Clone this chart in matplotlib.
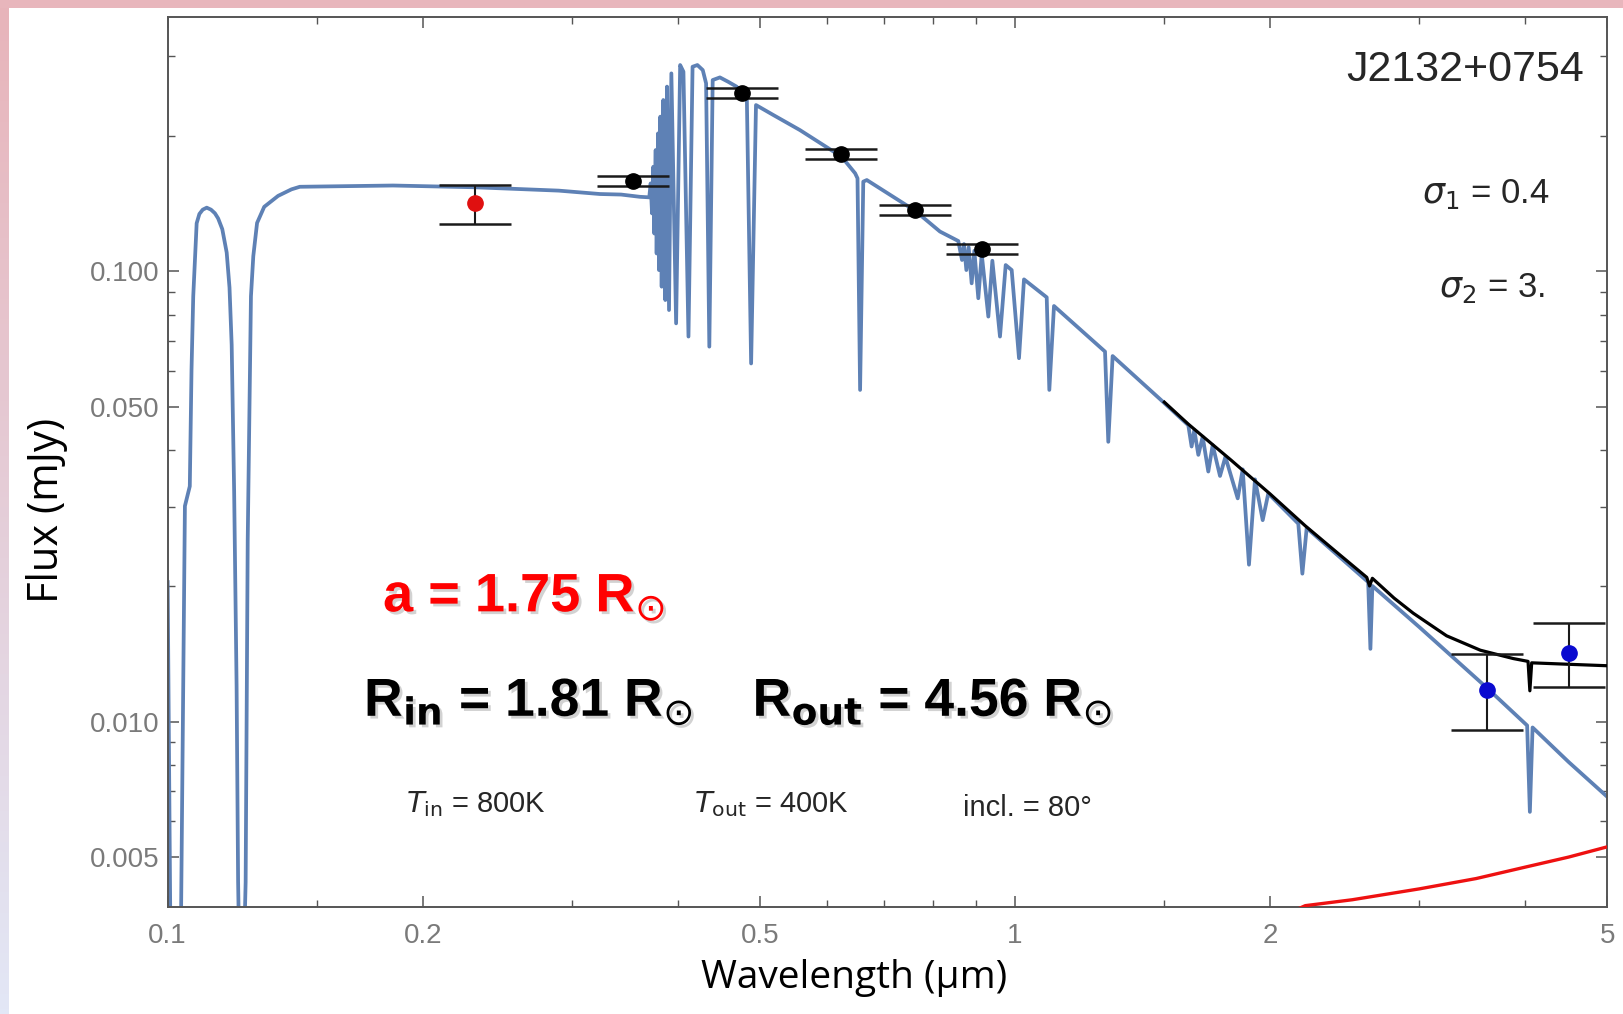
import matplotlib
matplotlib.use("Agg")
import matplotlib.pyplot as plt
import matplotlib.ticker as mticker
import matplotlib.patheffects as pe
import numpy as np

# --- white dwarf model spectrum (blue) ---
wd_wave = [0.1000, 0.1008, 0.1036, 0.1048, 0.1062, 0.1067, 0.1072, 0.1082, 0.1090, 0.1100,
           0.1112, 0.1125, 0.1137, 0.1147, 0.1160, 0.1174, 0.1183, 0.1190, 0.1198, 0.1206,
           0.1211, 0.1215, 0.1230, 0.1236, 0.1243, 0.1254, 0.1262, 0.1275, 0.1300, 0.1350,
           0.1400, 0.1432, 0.1845, 0.2305, 0.2894, 0.3237, 0.3428, 0.3608, 0.3701,
           0.3715, 0.3729, 0.3742, 0.3752, 0.3766, 0.3776, 0.3790, 0.3800, 0.3814, 0.3828,
           0.3845, 0.3866, 0.3884, 0.3905, 0.3930, 0.3981, 0.4025, 0.4061, 0.4117, 0.4163,
           0.4218, 0.4280, 0.4319, 0.4357, 0.4397, 0.4484, 0.4585, 0.4692, 0.4825, 0.4881,
           0.4946, 0.5186, 0.5573, 0.6241, 0.6475, 0.6517, 0.6563, 0.6620, 0.6684, 0.7619,
           0.8153, 0.8570, 0.8657, 0.8703, 0.8760, 0.8815, 0.8887, 0.8952, 0.9049, 0.9133,
           0.9299, 0.9401, 0.9598, 0.9748, 0.9908, 1.0107, 1.0245, 1.0897, 1.0975, 1.1115,
           1.2768, 1.2882, 1.3035, 1.4826,
           1.6010, 1.6155, 1.6273, 1.6453, 1.6648, 1.6904, 1.7107, 1.7451, 1.7707, 1.8311,
           1.8561, 1.8880, 1.9191, 1.9597, 1.9896, 2.1587, 2.1827, 2.2085, 2.6100, 2.6260,
           2.6400, 3.0000, 3.6000, 4.0200, 4.0500, 4.0800, 4.5000, 5.0000]
wd_flux = [0.0204, 0.0030, 0.0030, 0.0301, 0.0333, 0.0605, 0.0880, 0.1278, 0.1340, 0.1370,
           0.1384, 0.1370, 0.1345, 0.1310, 0.1240, 0.1100, 0.0920, 0.0686, 0.0324, 0.0120,
           0.0044, 0.0030, 0.0030, 0.0044, 0.0253, 0.0880, 0.1080, 0.1280, 0.1390, 0.1470,
           0.1520, 0.1540, 0.1550, 0.1536, 0.1510, 0.1484, 0.1480, 0.1463, 0.1459,
           0.1567, 0.1344, 0.1706, 0.1213, 0.1858, 0.1095, 0.2023, 0.1006, 0.2204, 0.0924,
           0.2400, 0.0863, 0.2570, 0.0820, 0.2750, 0.0766, 0.2870, 0.2774, 0.0716, 0.2845,
           0.2870, 0.2797, 0.2613, 0.0680, 0.2658, 0.2694, 0.2635, 0.2570, 0.2400, 0.0624,
           0.2339, 0.2222, 0.2058, 0.1796, 0.1650, 0.1608, 0.0545, 0.1581, 0.1594, 0.1363,
           0.1225, 0.1167, 0.1059, 0.1149, 0.1006, 0.1130, 0.0940, 0.1110, 0.0871, 0.1092,
           0.0793, 0.1055, 0.0716, 0.1032, 0.1006, 0.0641, 0.0959, 0.0875, 0.0545, 0.0837,
           0.0663, 0.0418, 0.0648, 0.0520,
           0.0455, 0.0408, 0.0444, 0.0391, 0.0429, 0.0359, 0.0411, 0.0351, 0.0387, 0.0313,
           0.0363, 0.0223, 0.0345, 0.0280, 0.0321, 0.0275, 0.0213, 0.0269, 0.0204, 0.0145,
           0.0200, 0.0162, 0.0119, 0.0098, 0.0063, 0.0097, 0.00813, 0.0068]

# --- total model (star + disk, black) ---
tot_wave = [1.50, 1.60, 1.80, 2.00, 2.20, 2.40, 2.60, 2.62, 2.64, 2.80, 2.95, 3.23, 3.54,
            3.87, 4.03, 4.05, 4.07, 4.50, 5.00]
tot_flux = [0.0512, 0.0458, 0.0380, 0.0320, 0.0272, 0.0237, 0.0209, 0.0200, 0.0208, 0.0188,
            0.0174, 0.0155, 0.0144, 0.0138, 0.0136, 0.0117, 0.0135, 0.0134, 0.0133]

# --- disk component (red) ---
disk_wave = [2.10, 2.20, 2.50, 3.00, 3.50, 4.00, 4.50, 5.00]
disk_flux = [0.00375, 0.00390, 0.00402, 0.00425, 0.00448, 0.00475, 0.00500, 0.00527]

# --- photometry ---
uv_wave = [0.2306]
uv_flux = [0.1418]
uv_lo = [0.0143]
uv_hi = [0.0133]

opt_wave = [0.3545, 0.4766, 0.6224, 0.7620, 0.9150]
opt_flux = [0.1585, 0.2485, 0.1820, 0.1367, 0.1120]
opt_err = [0.0041, 0.0065, 0.0048, 0.0033, 0.0027]

ir_wave = [3.6, 4.5]
ir_flux = [0.01172, 0.01419]
ir_lo = [0.00213, 0.00228]
ir_hi = [0.00238, 0.00235]

x_ticks = [0.1, 0.2, 0.5, 1, 2, 5]
x_labels = ["0.1", "0.2", "0.5", "1", "2", "5"]
x_minor = [0.15, 0.3, 0.4, 0.6, 0.7, 0.8, 0.9, 1.5, 3, 4]
y_ticks = [0.005, 0.01, 0.05, 0.1]
y_labels = ["0.005", "0.010", "0.050", "0.100"]
y_minor = [0.006, 0.007, 0.008, 0.009, 0.02, 0.03, 0.04, 0.06, 0.07, 0.08, 0.09, 0.2, 0.3]

fig = plt.figure(figsize=(16.23, 10.14), dpi=100)
fig.patch.set_facecolor("white")

# slide background strips
grad = np.linspace(0, 1, 200)
left_cols = np.zeros((200, 1, 3))
top_c = np.array([232, 180, 186]) / 255
bot_c = np.array([226, 231, 246]) / 255
for i, t in enumerate(grad):
    left_cols[i, 0] = top_c * (1 - t) + bot_c * t
bg_l = fig.add_axes([0, 0, 9 / 1623, 1])
bg_l.imshow(left_cols, aspect="auto", extent=[0, 1, 0, 1], origin="upper")
bg_l.axis("off")
bg_t = fig.add_axes([0, 1 - 8 / 1014, 1, 8 / 1014])
bg_t.set_facecolor((232 / 255, 182 / 255, 188 / 255))
bg_t.set_xticks([])
bg_t.set_yticks([])
for s in bg_t.spines.values():
    s.set_visible(False)

ax = fig.add_axes([0.1033, 0.1058, 0.8871, 0.8778])
ax.set_xscale("log")
ax.set_yscale("log")
ax.set_xlim(0.1, 5.0)
ax.set_ylim(0.003879, 0.3676)

ax.plot(wd_wave, wd_flux, color="#5E81B5", lw=2.7, zorder=2, solid_joinstyle="round")
ax.plot(tot_wave, tot_flux, color="black", lw=2.3, zorder=3)
ax.plot(disk_wave, disk_flux, color="#ee1111", lw=2.4, zorder=3)

eb = dict(ecolor="#1a1a1a", elinewidth=1.5, capsize=26, capthick=1.8, ms=11, zorder=4)
ax.errorbar(uv_wave, uv_flux, yerr=[uv_lo, uv_hi], fmt="o", color="#e01010", mec="#e01010", **eb)
ax.errorbar(opt_wave, opt_flux, yerr=opt_err, fmt="o", color="black", mec="black", **eb)
ax.errorbar(ir_wave, ir_flux, yerr=[ir_lo, ir_hi], fmt="o", color="#0a0ad0", mec="#0a0ad0", **eb)

ax.xaxis.set_major_locator(mticker.FixedLocator(x_ticks))
ax.xaxis.set_major_formatter(mticker.FixedFormatter(x_labels))
ax.xaxis.set_minor_locator(mticker.FixedLocator(x_minor))
ax.xaxis.set_minor_formatter(mticker.NullFormatter())
ax.yaxis.set_major_locator(mticker.FixedLocator(y_ticks))
ax.yaxis.set_major_formatter(mticker.FixedFormatter(y_labels))
ax.yaxis.set_minor_locator(mticker.FixedLocator(y_minor))
ax.yaxis.set_minor_formatter(mticker.NullFormatter())

ax.tick_params(which="both", direction="in", top=True, right=True, color="#555555",
               labelcolor="#7a7a7a", labelsize=20)
ax.tick_params(which="major", length=8, width=1.1)
ax.tick_params(which="minor", length=5, width=1.0)
ax.tick_params(axis="x", pad=12)
ax.tick_params(axis="y", pad=6)
for lab in ax.get_xticklabels() + ax.get_yticklabels():
    lab.set_fontfamily("Liberation Sans")
for s in ax.spines.values():
    s.set_color("#555555")
    s.set_linewidth(1.4)

fig.text(0.0287, 0.497, "Flux (mJy)", rotation=90, ha="center", va="center",
         fontsize=30, family="Open Sans")
fig.text(0.526, 0.0355, "Wavelength (\u03bcm)", ha="center", va="center",
         fontsize=28, family="Open Sans")

# Mathematica-style annotations
lab_kw = dict(family="Liberation Sans", color="#262626")
fig.text(0.9758, 0.9204, "J2132+0754", ha="right", va="baseline", fontsize=31, **lab_kw)
fig.text(0.9547, 0.7999, r"$\sigma_1$ = 0.4", ha="right", va="baseline", fontsize=25, **lab_kw)
fig.text(0.9516, 0.7071, r"$\sigma_2$ = 3.", ha="right", va="baseline", fontsize=25, **lab_kw)
fig.text(0.250, 0.1987, r"$T_{\rm in}$ = 800K", ha="left", va="baseline", fontsize=21, **lab_kw)
fig.text(0.4273, 0.1987, r"$T_{\rm out}$ = 400K", ha="left", va="baseline", fontsize=21, **lab_kw)
fig.text(0.5931, 0.1957, "incl. = 80\u00b0", ha="left", va="baseline", fontsize=21, **lab_kw)

# slide text over the chart
shadow = [pe.withSimplePatchShadow(offset=(2, -2), shadow_rgbFace="gray", alpha=0.35)]
big_kw = dict(family="Liberation Sans", weight="bold",
              ha="left", va="baseline", path_effects=shadow)
fig.text(0.236, 0.397, r"a = 1.75 R$_{\odot}$", color="#ff0000", fontsize=39, **big_kw)
fig.text(0.2243, 0.294, r"R$_{\mathbf{in}}$ = 1.81 R$_{\odot}$", color="black", fontsize=38.5, **big_kw)
fig.text(0.4637, 0.294, r"R$_{\mathbf{out}}$ = 4.56 R$_{\odot}$", color="black", fontsize=38.5, **big_kw)

fig.savefig("out.png", dpi=100, facecolor="white")
